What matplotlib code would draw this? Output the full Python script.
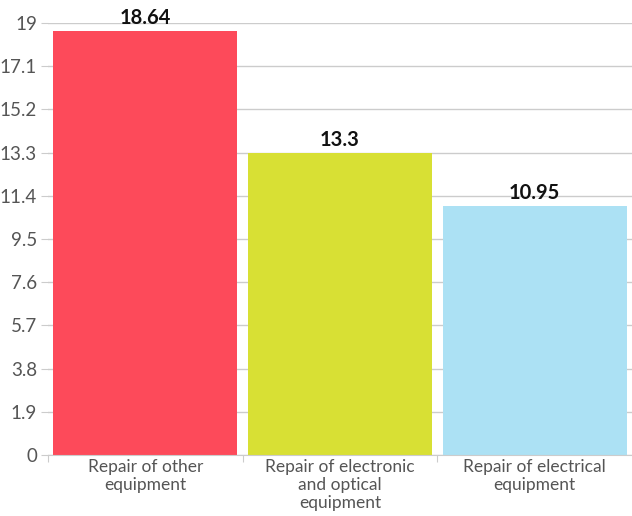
import numpy as np
import matplotlib.pyplot as plt

plt.rcParams['font.family'] = ['Lato', 'DejaVu Sans']

categories = ["Repair of other\nequipment", "Repair of electronic\nand optical\nequipment", "Repair of electrical\nequipment"]
values = [18.64, 13.3, 10.95]
labels = ["18.64", "13.3", "10.95"]
colors = ["#fd4a5a", "#d8e034", "#ace1f4"]
yticks = [0, 1.9, 3.8, 5.7, 7.6, 9.5, 11.4, 13.3, 15.2, 17.1, 19]
ytick_labels = ["0", "1.9", "3.8", "5.7", "7.6", "9.5", "11.4", "13.3", "15.2", "17.1", "19"]

fig = plt.figure(figsize=(6.32, 5.16), dpi=100)
ax = fig.add_axes([48 / 632, 61 / 516, 584 / 632, 432 / 516])

x = np.arange(len(values))
ax.bar(x, values, width=0.945, color=colors, zorder=2)
for xi, v, t in zip(x, values, labels):
    ax.text(xi, v + 0.12, t, ha="center", va="bottom", fontsize=14.5, fontweight="bold", color="#111111")

ax.set_xlim(-0.5, 2.5)
ax.set_ylim(0, 19)
ax.set_yticks(yticks)
ax.set_yticklabels(ytick_labels, fontsize=13.5, color="#555555")
ax.yaxis.grid(True, color="#cccccc", linewidth=1, zorder=0)

# category labels between boundary ticks
ax.set_xticks([-0.5, 0.5, 1.5])
ax.set_xticklabels([])
ax.set_xticks(x, minor=True)
ax.set_xticklabels(categories, minor=True, fontsize=12.5, color="#555555", linespacing=1.15)
ax.tick_params(axis="x", which="minor", length=0, pad=3)
ax.tick_params(axis="x", which="major", length=5, color="#cccccc")
ax.tick_params(axis="y", length=5, color="#cccccc", pad=3)

for s in ["top", "right", "left"]:
    ax.spines[s].set_visible(False)
ax.spines["bottom"].set_color("#cccccc")

fig.savefig("out.png")
